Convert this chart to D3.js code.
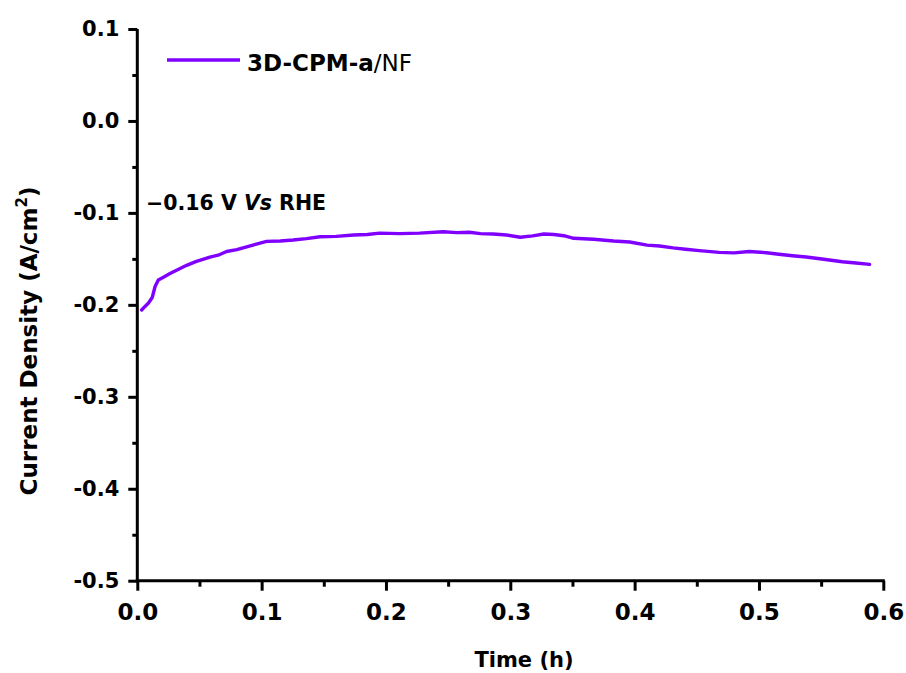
<!DOCTYPE html>
<html><head><meta charset="utf-8">
<script src="https://cdn.jsdelivr.net/npm/d3@7"></script>
<style>
body{margin:0;background:#fff;}
text{font-family:"DejaVu Sans",sans-serif;fill:#000;}
</style></head>
<body><svg id="c" width="906" height="673"></svg>
<script>
const seriesName = "3D-CPM-a/NF";
const annotation = "−0.16 V Vs RHE";
const xTicks = [0.0,0.1,0.2,0.3,0.4,0.5,0.6];
const yTicks = [0.1,0.0,-0.1,-0.2,-0.3,-0.4,-0.5];
const timeH = [0.0035,0.006,0.009,0.012,0.0143,0.0169,0.021,0.0263,0.032,0.0397,0.047,0.0584,0.065,0.0718,0.08,0.093,0.104,0.115,0.1254,0.136,0.147,0.16,0.174,0.185,0.195,0.211,0.227,0.246,0.257,0.267,0.276,0.286,0.297,0.308,0.318,0.327,0.335,0.343,0.351,0.367,0.383,0.396,0.410,0.420,0.431,0.441,0.452,0.468,0.480,0.492,0.506,0.516,0.527,0.538,0.549,0.558,0.567,0.578,0.589];
const current = [-0.2056,-0.2020,-0.1980,-0.1920,-0.1800,-0.1730,-0.1700,-0.1660,-0.1620,-0.1570,-0.1530,-0.1480,-0.1460,-0.1420,-0.1400,-0.1350,-0.1310,-0.1305,-0.1295,-0.1280,-0.1260,-0.1255,-0.1240,-0.1235,-0.1220,-0.1225,-0.1220,-0.1205,-0.1215,-0.1210,-0.1225,-0.1230,-0.1240,-0.1265,-0.1250,-0.1230,-0.1235,-0.1248,-0.1276,-0.1287,-0.1306,-0.1317,-0.1350,-0.1360,-0.1380,-0.1395,-0.1410,-0.1429,-0.1435,-0.1420,-0.1433,-0.1450,-0.1466,-0.1480,-0.1498,-0.1515,-0.1531,-0.1545,-0.1560];
const data = timeH.map((t,i)=>({t, v: current[i]}));

const svg = d3.select("#c");
const x = d3.scaleLinear().domain([0,0.6]).range([137.3,883.3]);
const y = d3.scaleLinear().domain([-0.5,0.1]).range([580.7,29]);
const fmt = d => d3.format(".1f")(d).replace("−","-");

// axes
const axW = 3;
const xAxis = d3.axisBottom(x).tickValues(xTicks).tickFormat(fmt).tickSize(10).tickPadding(13);
const gx = svg.append("g").attr("transform",`translate(0,${y(-0.5)})`).call(xAxis);
gx.select(".domain").attr("stroke-width",axW).attr("d",`M${x(0)-1.5},0H${x(0.6)+1.5}`);
gx.selectAll(".tick line").attr("stroke-width",axW);
gx.selectAll(".tick text").attr("font-size",23).attr("font-weight","bold").attr("font-family","DejaVu Sans");
const xMinor = d3.axisBottom(x).tickValues([0.05,0.15,0.25,0.35,0.45,0.55]).tickSize(6).tickFormat("");
const gxm = svg.append("g").attr("transform",`translate(0,${y(-0.5)})`).call(xMinor);
gxm.select(".domain").remove();
gxm.selectAll(".tick line").attr("stroke-width",axW);

const yAxis = d3.axisLeft(y).tickValues(yTicks).tickFormat(fmt).tickSize(9).tickPadding(9);
const gy = svg.append("g").attr("transform",`translate(${x(0)},0)`).call(yAxis);
gy.select(".domain").attr("stroke-width",axW).attr("d",`M0,${y(0.1)}V${y(-0.5)+1.5}`);
gy.selectAll(".tick line").attr("stroke-width",axW);
gy.selectAll(".tick text").attr("font-size",21).attr("font-weight","bold").attr("font-family","DejaVu Sans");
const yMinor = d3.axisLeft(y).tickValues([0.05,-0.05,-0.15,-0.25,-0.35,-0.45]).tickSize(5).tickFormat("");
const gym = svg.append("g").attr("transform",`translate(${x(0)},0)`).call(yMinor);
gym.select(".domain").remove();
gym.selectAll(".tick line").attr("stroke-width",axW);

// line
const line = d3.line().x(d=>x(d.t)).y(d=>y(d.v));
svg.append("path").datum(data).attr("d",line).attr("fill","none")
  .attr("stroke","#8000ff").attr("stroke-width",3.4).attr("stroke-linejoin","round").attr("stroke-linecap","round");

// axis titles
svg.append("text").attr("x",524).attr("y",667).attr("text-anchor","middle")
  .attr("font-size",21).attr("font-weight","bold").text("Time (h)");
const yl = svg.append("text").attr("transform","translate(37,341) rotate(-90)").attr("text-anchor","middle")
  .attr("font-size",23).attr("font-weight","bold");
yl.append("tspan").text("Current Density (A/cm");
yl.append("tspan").attr("font-size",15).attr("dy",-10).text("2");
yl.append("tspan").attr("dy",10).text(")");

// legend
svg.append("line").attr("x1",167).attr("x2",240).attr("y1",60).attr("y2",60)
  .attr("stroke","#8000ff").attr("stroke-width",3.4);
const lt = svg.append("text").attr("x",247).attr("y",71).attr("font-size",23);
lt.append("tspan").attr("font-weight","bold").text("3D-CPM-a");
lt.append("tspan").text("/NF");

// annotation
const an = svg.append("text").attr("x",146).attr("y",210).attr("font-size",20.5).attr("font-weight","bold");
an.append("tspan").text("−0.16 V ");
an.append("tspan").attr("font-style","italic").text("Vs");
an.append("tspan").text(" RHE");
</script></body></html>
